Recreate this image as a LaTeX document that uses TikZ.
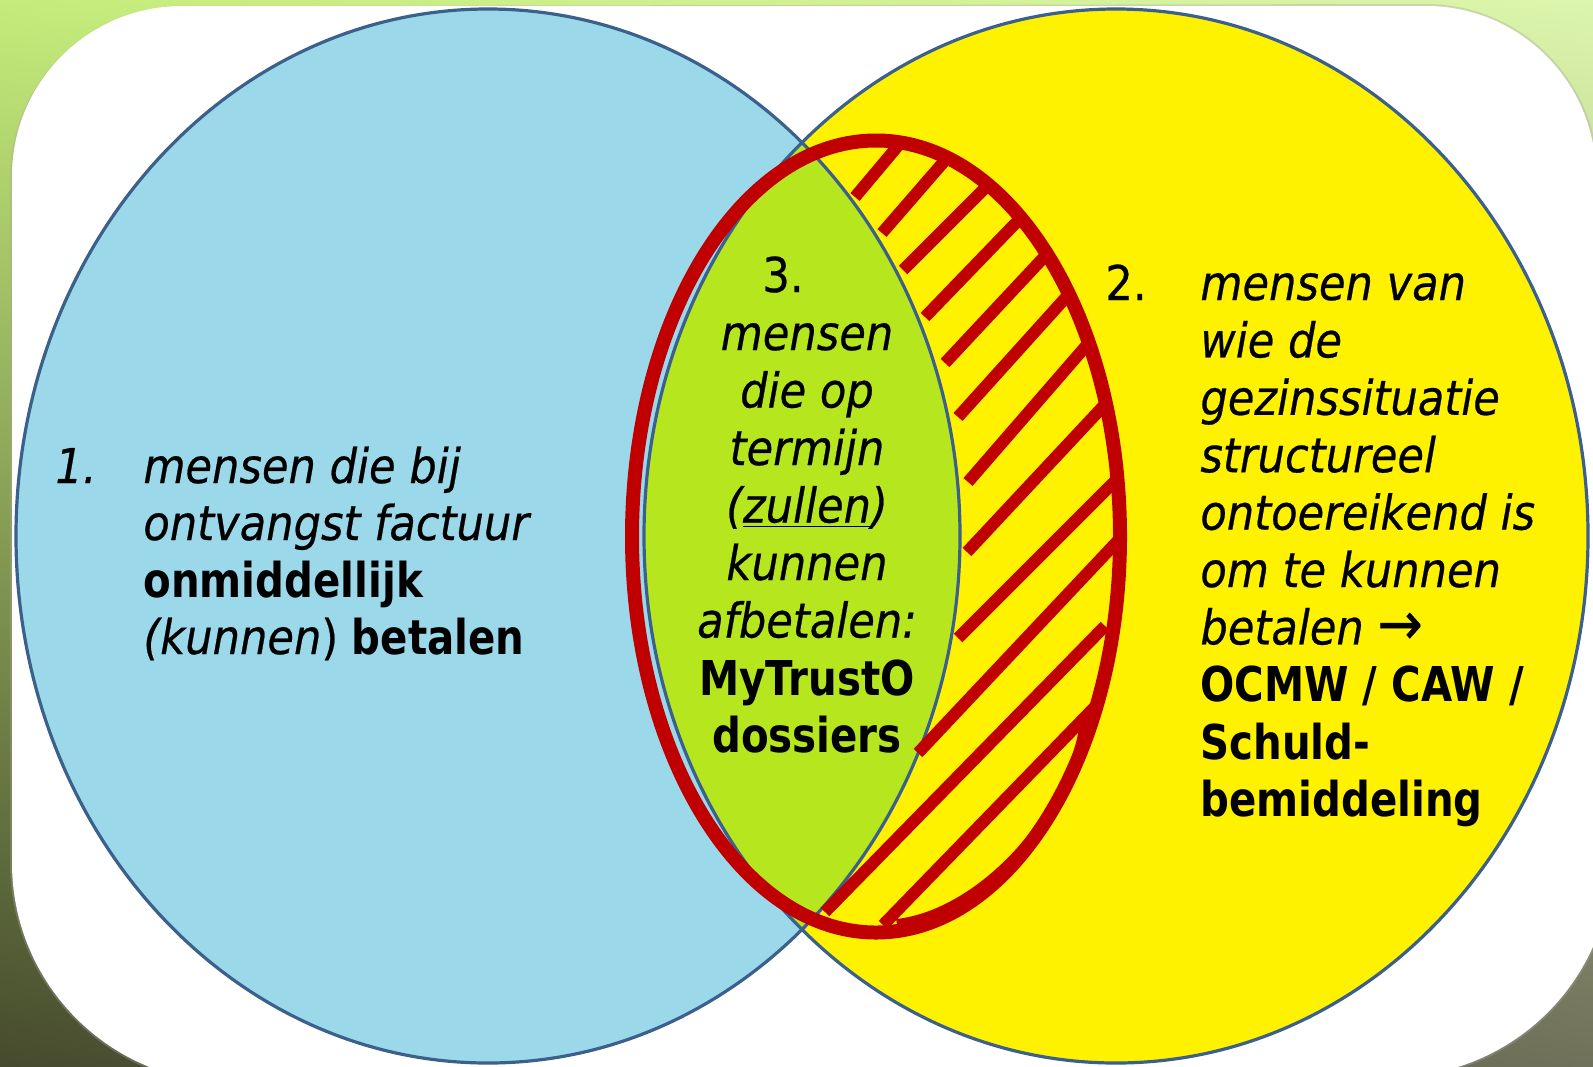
\documentclass[tikz,border=0pt]{standalone}
\usepackage{fontspec}
\usetikzlibrary{shadings}
\setmainfont{DejaVu Sans}[FakeStretch=0.9,
  UprightFeatures={FakeBold=0.5},
  ItalicFeatures={FakeBold=0.5},
  BoldFeatures={FakeStretch=0.84}]
\definecolor{bgUL}{RGB}{196,236,122}
\definecolor{bgUR}{RGB}{220,245,172}
\definecolor{bgLL}{RGB}{70,75,45}
\definecolor{bgLR}{RGB}{112,113,90}
\definecolor{bluefill}{RGB}{155,217,234}
\definecolor{yellowfill}{RGB}{255,242,0}
\definecolor{lensgreen}{RGB}{181,230,30}
\definecolor{outlineblue}{RGB}{60,96,140}
\definecolor{hatchred}{RGB}{192,0,0}
\begin{document}
\begin{tikzpicture}[x=0.5pt,y=-0.5pt,
  txt/.style={inner sep=0pt, font=\fontsize{24}{28}\selectfont},
  hatchline/.style={draw=hatchred, line width=6pt, line cap=butt, line join=miter},
  ringline/.style={draw=hatchred, line width=7pt},
  setline/.style={draw=outlineblue, line width=1.6pt}]
\useasboundingbox (0,0) rectangle (1593,1066);
\clip (0,0) rectangle (1593,1066);
% background
\shade[upper left=bgUL, upper right=bgUR, lower left=bgLL, lower right=bgLR] (0,0) rectangle (1593,1066);
% white panel
\fill[black!35, opacity=0.35] (10,178) arc[start angle=180,end angle=270,radius=172] -- (1426,4) arc[start angle=270,end angle=360,radius=172] -- (1614,857) arc[start angle=0,end angle=90,radius=222] -- (232,1085) arc[start angle=90,end angle=180,radius=222] -- cycle;
\fill[white] (12,176) arc[start angle=180,end angle=270,radius=170] -- (1426,6) arc[start angle=270,end angle=360,radius=170] -- (1612,857) arc[start angle=0,end angle=90,radius=220] -- (232,1083) arc[start angle=90,end angle=180,radius=220] -- cycle;
% sets
\fill[bluefill] (488,536) ellipse[x radius=472, y radius=527];
\fill[yellowfill] (1116,536) ellipse[x radius=472, y radius=527];
\begin{scope}
  \clip (488,536) ellipse[x radius=472, y radius=527];
  \fill[lensgreen] (1116,536) ellipse[x radius=472, y radius=527];
\end{scope}
\draw[setline] (488,536) ellipse[x radius=472, y radius=527];
\draw[setline] (1116,536) ellipse[x radius=472, y radius=527];
% hatching
\begin{scope}
  \clip (876,536.5) ellipse[x radius=244, y radius=396];
  \draw[hatchline] (855,197) -- ++(257,-306);
  \draw[hatchline] (882,233) -- ++(262,-302);
  \draw[hatchline] (903,270) -- ++(283,-283);
  \draw[hatchline] (925,317) -- ++(278,-288);
  \draw[hatchline] (945,363) -- ++(273,-292);
  \draw[hatchline] (958,417) -- ++(268,-297);
  \draw[hatchline] (968,482) -- ++(262,-302);
  \draw[hatchline] (967,552) -- ++(273,-292);
  \draw[hatchline] (958,638) -- ++(283,-283);
  \draw[hatchline] (918,753) -- ++(274,-291);
  \draw[hatchline] (825,912) -- ++(280,-286);
\end{scope}
\draw[hatchline] (883,925) -- (1087,715) .. controls (1078,810) and (985,915) .. (897,925);
\draw[ringline] (876,536.5) ellipse[x radius=244, y radius=396];
% left text
\node[txt, anchor=base west] (num1) at (55,483) {\itshape 1.};
\node[txt, anchor=base west] (la) at (143,483) {\itshape mensen die bij};
\node[txt, anchor=base west] (lb) at (143,540) {\itshape ontvangst factuur};
\node[txt, anchor=base west] (lc) at (143,597) {\bfseries onmiddellijk};
\node[txt, anchor=base west] (ld) at (143,654) {\textit{(kunnen}) \textbf{betalen}};
% middle text
\node[txt, anchor=base west] (num3) at (762,292) {3.};
\node[txt, anchor=base] (ma) at (807,350) {\itshape mensen};
\node[txt, anchor=base] (mb) at (807,407.5) {\itshape die op};
\node[txt, anchor=base] (mc) at (807,465) {\itshape termijn};
\node[txt, anchor=base] (md) at (807,522.5) {\itshape (\underline{zullen})};
\node[txt, anchor=base] (me) at (807,580) {\itshape kunnen};
\node[txt, anchor=base] (mf) at (807,637.5) {\itshape afbetalen:};
\node[txt, anchor=base] (mg) at (807,695) {\bfseries MyTrustO};
\node[txt, anchor=base] (mh) at (807,752.5) {\bfseries dossiers};
% right text
\node[txt, anchor=base west] (num2) at (1105,300) {2.};
\node[txt, anchor=base west] (ra) at (1200,300) {\itshape mensen van};
\node[txt, anchor=base west] (rb) at (1200,357.4) {\itshape wie de};
\node[txt, anchor=base west] (rc) at (1200,414.8) {\itshape gezinssituatie};
\node[txt, anchor=base west] (rd) at (1200,472.2) {\itshape structureel};
\node[txt, anchor=base west] (re) at (1200,529.6) {\itshape ontoereikend is};
\node[txt, anchor=base west] (rf) at (1200,587) {\itshape om te kunnen};
\node[txt, anchor=base west] (rg) at (1200,644.4) {\textit{betalen} {\fontsize{30}{30}\selectfont →}};
\node[txt, anchor=base west] (rh) at (1200,701.8) {\bfseries OCMW / CAW /};
\node[txt, anchor=base west] (ri) at (1200,759.2) {\bfseries Schuld-};
\node[txt, anchor=base west] (rj) at (1200,816.6) {\bfseries bemiddeling};
\end{tikzpicture}
\end{document}
